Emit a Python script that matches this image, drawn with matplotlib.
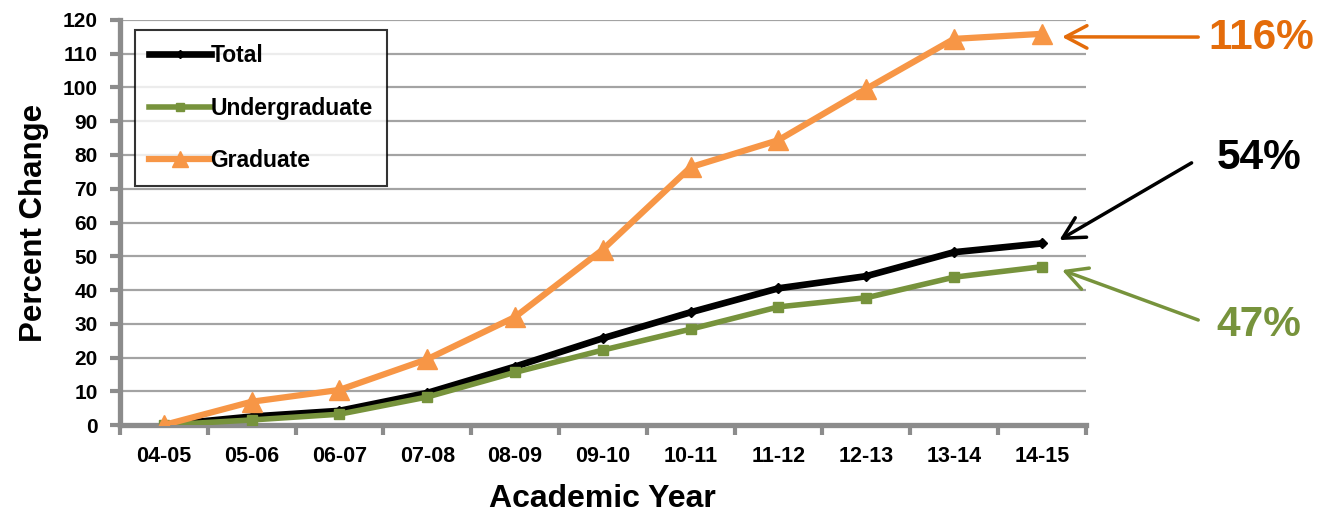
import matplotlib.pyplot as plt
from matplotlib.ticker import FixedLocator

years = ['04-05', '05-06', '06-07', '07-08', '08-09', '09-10',
         '10-11', '11-12', '12-13', '13-14', '14-15']
total = [0, 2.5, 4.2, 9.5, 17.3, 25.7, 33.4, 40.5, 44.1, 51.2, 53.8]
undergrad = [0, 1.5, 3.2, 8.3, 15.6, 22.2, 28.4, 35.0, 37.7, 43.8, 46.9]
graduate = [0, 6.9, 10.4, 19.5, 32.0, 52.0, 76.4, 84.4, 99.6, 114.4, 115.9]
end_labels = ['54%', '47%', '116%']

plt.rcParams['font.family'] = ['Liberation Sans', 'DejaVu Sans']
plt.rcParams['font.weight'] = 'bold'

BLACK = '#000000'
GREEN = '#77933C'
ORANGE = '#F79646'
ORANGE_TXT = '#E46C0A'
GRAY = '#8C8C8C'

fig = plt.figure(figsize=(13.24, 5.22), dpi=100)
ax = fig.add_axes([0.0906, 0.1858, 0.7294, 0.7759])

# Excel draws series in order, so Graduate ends up on top
x = list(range(len(years)))
ax.plot(x, total, color=BLACK, lw=4.8, marker='D', ms=5,
        label='Total', zorder=3)
ax.plot(x, undergrad, color=GREEN, lw=4, marker='s', ms=7,
        label='Undergraduate', zorder=4)
ax.plot(x, graduate, color=ORANGE, lw=4.5, marker='^', ms=15,
        label='Graduate', zorder=5)

ax.set_xlim(-0.5, len(years) - 0.5)
ax.set_ylim(0, 120)
ax.set_yticks(range(0, 121, 10))
ax.set_xticks(x)
ax.set_xticklabels(years, fontsize=15.5, fontweight='bold')
ax.tick_params(axis='x', length=0, pad=15)
ax.xaxis.set_minor_locator(FixedLocator([i - 0.5 for i in range(len(years) + 1)]))
ax.tick_params(axis='x', which='minor', length=7, width=3, color=GRAY)
ax.tick_params(axis='y', length=7, width=3, color=GRAY, labelsize=15, pad=9)
for lab in ax.get_yticklabels():
    lab.set_fontweight('bold')

ax.grid(axis='y', color=GRAY, lw=1.6, alpha=0.8)
ax.set_axisbelow(True)
for s in ['top', 'right']:
    ax.spines[s].set_visible(False)
for s in ['left', 'bottom']:
    ax.spines[s].set_color(GRAY)
    ax.spines[s].set_linewidth(3.8)

ax.set_ylabel('Percent Change', fontsize=22.5, fontweight='bold', labelpad=10)
ax.set_xlabel('Academic Year', fontsize=23, fontweight='bold', labelpad=12)

leg = ax.legend(loc='upper left', bbox_to_anchor=(0.0155, 0.975),
                fontsize=16.5, frameon=True, fancybox=False, edgecolor='black',
                handlelength=2.7, handletextpad=0.0, labelspacing=1.3,
                borderpad=0.6, borderaxespad=0, markerscale=0.75)
leg.get_frame().set_linewidth(1.5)
leg.set_zorder(10)

# end-of-series call-outs: arrow tails and labels placed in figure fraction
last = len(years) - 1
arrow = dict(arrowstyle='->,head_length=0.85,head_width=0.45', lw=2.5,
             mutation_scale=18, shrinkA=0, shrinkB=0,
             joinstyle='round', capstyle='round')
ax.annotate('', xy=(last + 0.23, graduate[-1] - 0.9), xycoords='data',
            xytext=(0.905, 0.929), textcoords='figure fraction',
            arrowprops=dict(arrow, color=ORANGE_TXT))
ax.annotate('', xy=(last + 0.2, total[-1] + 1.0), xycoords='data',
            xytext=(0.900, 0.688), textcoords='figure fraction',
            arrowprops=dict(arrow, color=BLACK))
ax.annotate('', xy=(last + 0.23, undergrad[-1] - 1.0), xycoords='data',
            xytext=(0.905, 0.387), textcoords='figure fraction',
            arrowprops=dict(arrow, color=GREEN))
fig.text(0.913, 0.927, end_labels[2], color=ORANGE_TXT, fontsize=30.5,
         fontweight='bold', ha='left', va='center')
fig.text(0.919, 0.697, end_labels[0], color=BLACK, fontsize=30.5,
         fontweight='bold', ha='left', va='center')
fig.text(0.919, 0.377, end_labels[1], color=GREEN, fontsize=30.5,
         fontweight='bold', ha='left', va='center')

fig.savefig('out.png', dpi=100)
